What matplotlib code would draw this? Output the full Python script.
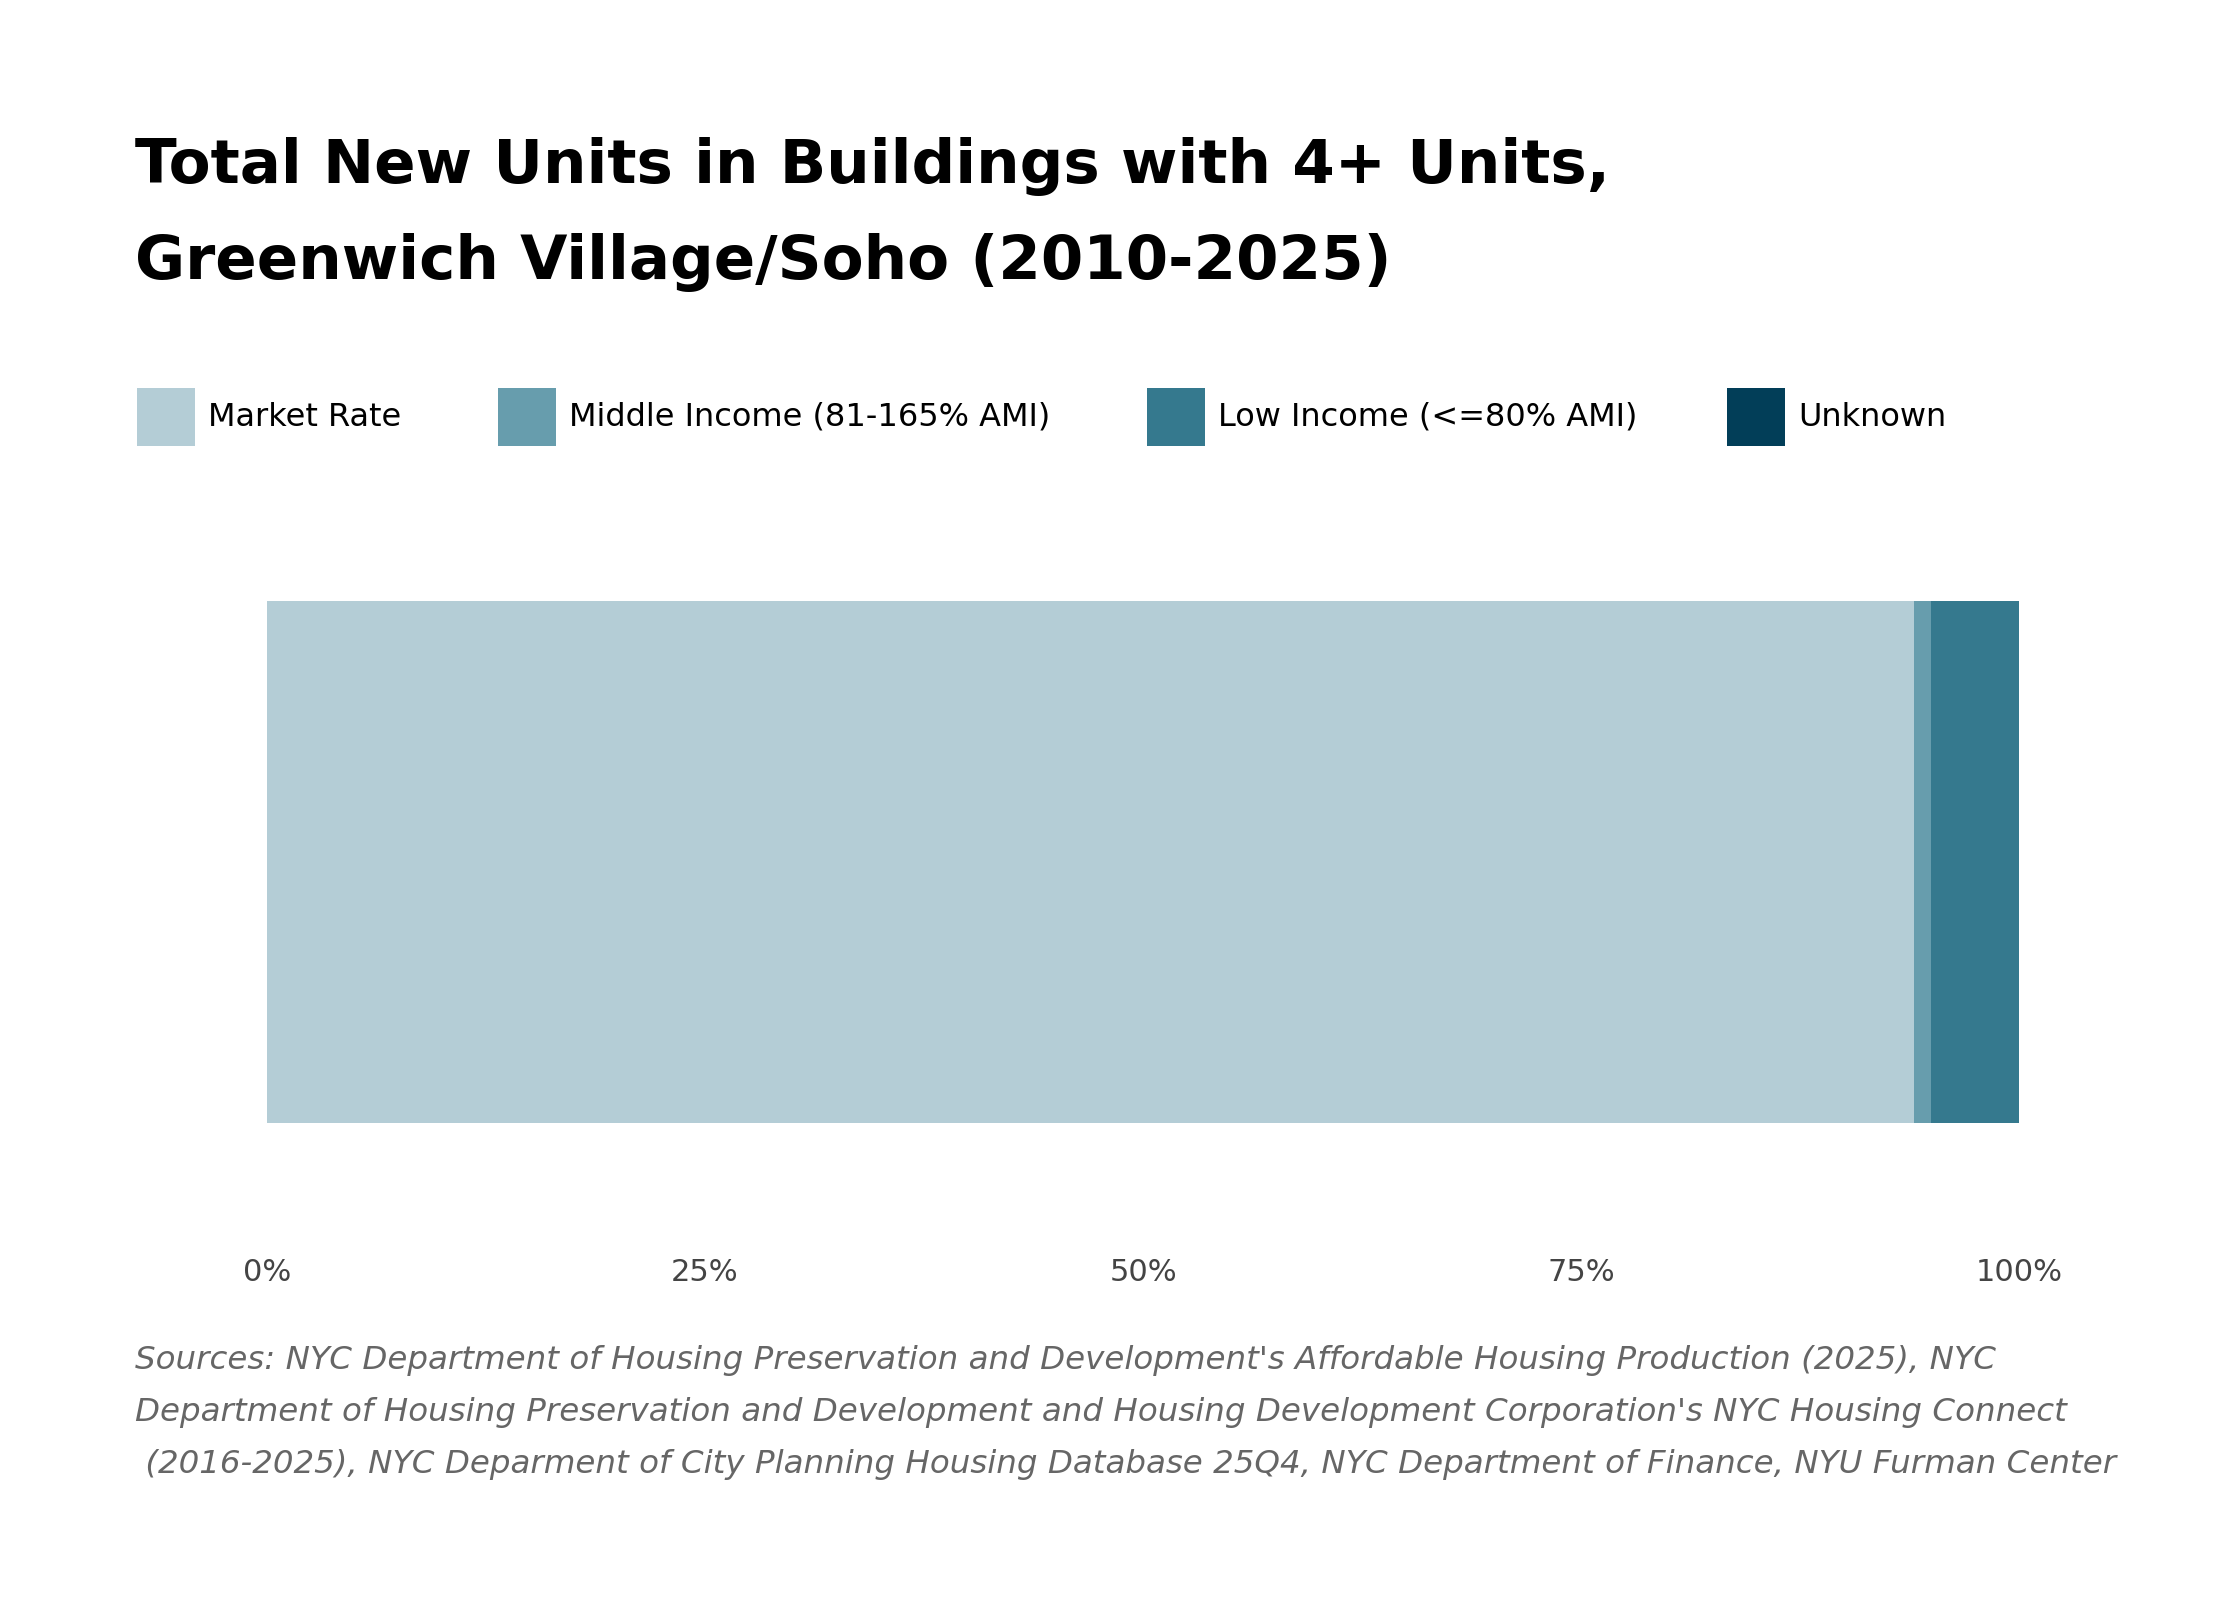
import matplotlib.pyplot as plt
from matplotlib.patches import Rectangle
from matplotlib.ticker import FuncFormatter

categories = ["Greenwich Village/Soho"]
series = ["Market Rate", "Middle Income (81-165% AMI)", "Low Income (<=80% AMI)", "Unknown"]
values = [94.0, 1.0, 5.0, 0.0]
colors = ["#b4cdd6", "#679dad", "#35798e", "#023e58"]
ticks = [0, 25, 50, 75, 100]

W, H = 2240, 1600
fig = plt.figure(figsize=(11.2, 8), dpi=200)
ax = fig.add_axes([267/W, 1 - 1225/H, (2019-267)/W, (1225-480)/H])
left = 0
for s, v, c in zip(series, values, colors):
    ax.barh(0, v, left=left, height=0.56, color=c, linewidth=0)
    left += v
ax.set_xlim(0, 100)
ax.set_ylim(-0.39, 0.41)
ax.set_xticks(ticks)
ax.xaxis.set_major_formatter(FuncFormatter(lambda x, p: f"{int(x)}%"))
ax.tick_params(axis='x', length=0, labelsize=11, labelcolor="#444444", pad=12)
ax.set_yticks([])
for sp in ax.spines.values():
    sp.set_visible(False)

fig.text(135/W, 1 - 166/H, "Total New Units in Buildings with 4+ Units,", fontsize=22,
         fontweight='bold', va='center', ha='left')
fig.text(135/W, 1 - 263/H, "Greenwich Village/Soho (2010-2025)", fontsize=22,
         fontweight='bold', va='center', ha='left')

lx = [137, 498, 1147, 1727]
for x, s, c in zip(lx, series, colors):
    fig.patches.append(Rectangle((x/W, 1 - 446/H), 58/W, 58/H, transform=fig.transFigure,
                                 color=c, linewidth=0))
    fig.text((x + 71)/W, 1 - 417/H, s, fontsize=11.5, va='center', ha='left')

src = ["Sources: NYC Department of Housing Preservation and Development's Affordable Housing Production (2025), NYC",
       "Department of Housing Preservation and Development and Housing Development Corporation's NYC Housing Connect",
       " (2016-2025), NYC Deparment of City Planning Housing Database 25Q4, NYC Department of Finance, NYU Furman Center"]
for i, line in enumerate(src):
    fig.text(135/W, 1 - (1361 + 52*i)/H, line, fontsize=11.7, style='italic', color="#666666",
             va='center', ha='left')

fig.savefig("out.png", dpi=200, facecolor='white')
